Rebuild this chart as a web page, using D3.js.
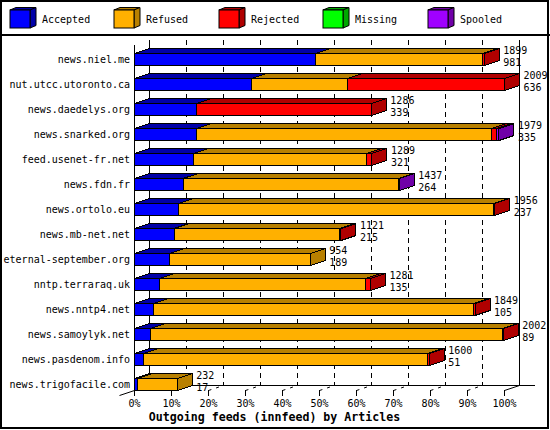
<!DOCTYPE html>
<html><head><meta charset="utf-8">
<script src="https://cdn.jsdelivr.net/npm/d3@7"></script>
<style>
body{margin:0;background:#fff}
svg{display:block}
text{font-family:"DejaVu Sans Mono","Liberation Mono",monospace;fill:#000}
</style>
</head><body>
<svg id="chart" width="550" height="430"></svg>
<script>
// ---- data ----
const servers = ["news.niel.me","nut.utcc.utoronto.ca","news.daedelys.org","news.snarked.org",
  "feed.usenet-fr.net","news.fdn.fr","news.ortolo.eu","news.mb-net.net","eternal-september.org",
  "nntp.terraraq.uk","news.nntp4.net","news.samoylyk.net","news.pasdenom.info","news.trigofacile.com"];
const accepted = [981,636,339,335,321,264,237,215,189,135,105,89,51,17];
const refused  = [908,519,0,1605,937,1170,1714,898,765,1118,1738,1908,1539,215];
const rejected = [10,854,947,24,31,0,5,8,0,28,6,5,10,0];
const missing  = [0,0,0,0,0,0,0,0,0,0,0,0,0,0];
const spooled  = [0,0,0,15,0,3,0,0,0,0,0,0,0,0];
const seriesNames = ["Accepted","Refused","Rejected","Missing","Spooled"];
const seriesFront = ["#0000ff","#ffb000","#ff0000","#00ff00","#a000ff"];
const seriesDark  = ["#0000a8","#b88000","#b00000","#00a800","#7000a8"];
const tickLabels = ["0%","10%","20%","30%","40%","50%","60%","70%","80%","90%","100%"];
const axisTitle = "Outgoing feeds (innfeed) by Articles";

// ---- build table ----
const seriesValues = [accepted, refused, rejected, missing, spooled];
const rows = servers.map((s,i)=>{
  const r = {server:s};
  seriesNames.forEach((k,j)=> r[k] = seriesValues[j][i]);
  r.total = d3.sum(seriesValues, v=>v[i]);
  return r;
});
const stacked = d3.stack().keys(seriesNames)(rows);
const maxTotal = d3.max(rows, r=>r.total);

const svg = d3.select("#chart");
const DX = 15, DY = -5;

const x = d3.scaleLinear().domain([0, maxTotal]).range([134.5, 504.5]);
const y = d3.scaleBand().domain(servers).range([47, 397]).paddingInner(0.52).paddingOuter(0.26);

svg.append("rect").attr("x",0).attr("y",0).attr("width",550).attr("height",430).attr("fill","#fff");

// ---- legend ----
const legendX = [10,114,219,323,428];
const lg = svg.append("g");
seriesNames.forEach((name,j)=>{
  const x0 = legendX[j], t=10, b=28, w=20, ox=6, oy=-2.5;
  const g = lg.append("g");
  g.append("polygon").attr("points",[[x0,t],[x0+ox,t+oy],[x0+w+ox,t+oy],[x0+w,t]].join(" "))
    .attr("fill",seriesDark[j]).attr("stroke","#000");
  g.append("polygon").attr("points",[[x0+w,t],[x0+w+ox,t+oy],[x0+w+ox,b+oy],[x0+w,b]].join(" "))
    .attr("fill",seriesDark[j]).attr("stroke","#000");
  g.append("rect").attr("x",x0).attr("y",t).attr("width",w).attr("height",b-t)
    .attr("fill",seriesFront[j]).attr("stroke","#000");
  g.append("text").attr("x",x0+32).attr("y",23).attr("font-size","10px").text(name);
});
svg.append("line").attr("x1",0).attr("x2",550).attr("y1",35).attr("y2",35).attr("stroke","#000").attr("stroke-width",2);

// ---- back wall grid ----
const tickVals = tickLabels.map((_,i)=> maxTotal*i/10);
const grid = svg.append("g");
tickVals.forEach((v,i)=>{
  const xb = x(v)+DX;
  grid.append("line").attr("x1",xb).attr("x2",xb).attr("y1",40).attr("y2",385.5)
    .attr("stroke","#000").attr("stroke-dasharray",(i===0||i===10)?null:"5,4");
});
// floor back line
grid.append("line").attr("x1",x(0)+DX).attr("x2",535).attr("y1",385.5).attr("y2",385.5).attr("stroke","#000");
// floor depth lines and front ticks
tickVals.forEach((v,i)=>{
  const xf = x(v);
  grid.append("line").attr("x1",xf).attr("x2",xf+DX).attr("y1",390.5).attr("y2",385.5)
    .attr("stroke","#000").attr("stroke-dasharray",(i===0||i===10)?null:"3,5");
  grid.append("line").attr("x1",xf).attr("x2",xf).attr("y1",390).attr("y2",396).attr("stroke","#000");
});
grid.append("line").attr("x1",x(0)-15).attr("x2",x(0)).attr("y1",395.5).attr("y2",390.5).attr("stroke","#000");
// front left axis
grid.append("line").attr("x1",x(0)).attr("x2",x(0)).attr("y1",45).attr("y2",396).attr("stroke","#000");

// ---- bars ----
const bars = svg.append("g").attr("shape-rendering","crispEdges");
rows.forEach((r,i)=>{
  const top = y(r.server), bot = top + y.bandwidth();
  seriesNames.forEach((k,j)=>{
    const seg = stacked[j][i];
    if (seg[1]-seg[0] <= 0) return;
    const x0 = x(seg[0]), x1 = x(seg[1]);
    const g = bars.append("g");
    g.append("rect").attr("x",x0).attr("y",top).attr("width",x1-x0).attr("height",bot-top)
      .attr("fill",seriesFront[j]).attr("stroke","#000");
    g.append("polygon").attr("points",[[x0,top],[x0+DX,top+DY],[x1+DX,top+DY],[x1,top]].join(" "))
      .attr("fill",seriesDark[j]).attr("stroke","#000");
    g.append("polygon").attr("points",[[x1,top],[x1+DX,top+DY],[x1+DX,bot+DY],[x1,bot]].join(" "))
      .attr("fill",seriesDark[j]).attr("stroke","#000");
  });
  // labels
  svg.append("text").attr("x",130).attr("y",bot-2.5).attr("text-anchor","end").attr("font-size","10px").text(r.server);
  const lx = x(r.total)+DX+4;
  svg.append("text").attr("x",lx).attr("y",top).attr("font-size","10px").text(r.total);
  svg.append("text").attr("x",lx).attr("y",bot).attr("font-size","10px").text(r.Accepted);
});

// ---- tick labels & title ----
tickVals.forEach((v,i)=>{
  svg.append("text").attr("x",x(v)).attr("y",407).attr("text-anchor","middle").attr("font-size","10px").text(tickLabels[i]);
});
svg.append("text").attr("x",274.5).attr("y",421).attr("text-anchor","middle")
  .attr("font-size","11.6px").attr("font-weight","bold").text(axisTitle);

// outer border
svg.append("rect").attr("x",1).attr("y",1).attr("width",547).attr("height",427)
  .attr("fill","none").attr("stroke","#000").attr("stroke-width",2);
</script>
</body></html>
